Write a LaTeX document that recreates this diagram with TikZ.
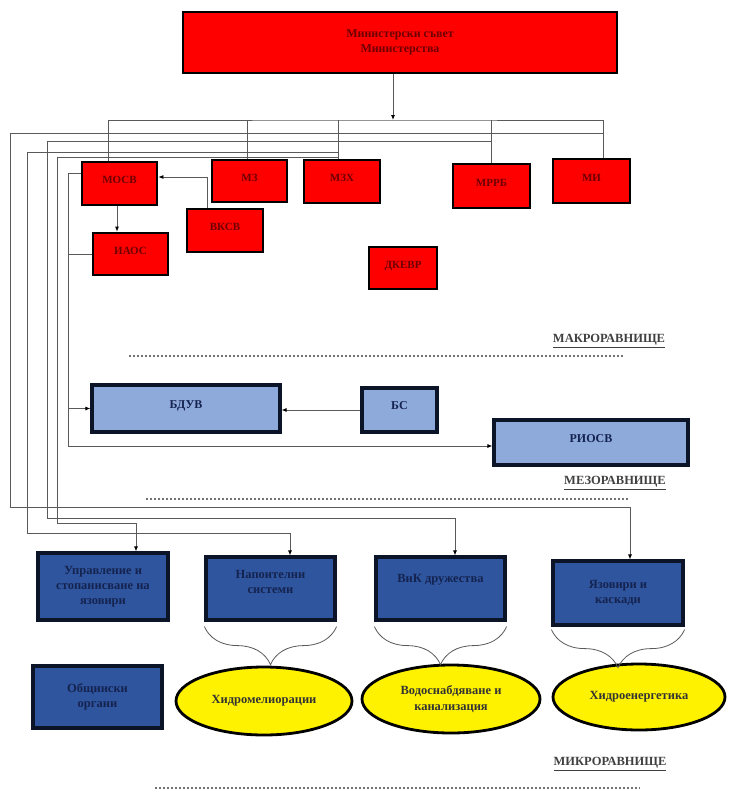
\documentclass[tikz,border=0pt]{standalone}
\usepackage{fontspec}
\setmainfont{Liberation Serif}
\usetikzlibrary{arrows.meta,shapes.geometric,decorations.pathreplacing,calc}
\definecolor{lblue}{RGB}{142,170,219}
\definecolor{dblue}{RGB}{47,85,158}
\definecolor{navyb}{RGB}{12,20,40}
\definecolor{navyt}{RGB}{20,35,80}
\definecolor{redt}{RGB}{110,0,0}
\definecolor{linegray}{RGB}{90,90,90}
\begin{document}
\begin{tikzpicture}[x=1pt,y=-1pt,
  redbox/.style={draw=black, line width=2.8pt, fill=red, text=redt, inner sep=0pt,
    font=\bfseries\fontsize{11}{13}\selectfont, text depth=7pt},
  lbox/.style={draw=navyb, line width=3.2pt, fill=lblue, text=navyt, inner sep=0pt,
    font=\bfseries\fontsize{12}{14}\selectfont, text depth=8pt},
  dbox/.style={draw=navyb, line width=3.2pt, fill=dblue, text=navyt, inner sep=0pt,
    align=center, font=\bfseries\fontsize{12.5}{15}\selectfont},
  ell/.style={ellipse, draw=black, line width=2.8pt, fill=yellow, inner sep=0pt,
    align=center, text=black!80, font=\bfseries\fontsize{12.5}{16}\selectfont},
  lvl/.style={font=\bfseries\fontsize{12.5}{14}\selectfont, text=black!75, inner sep=0pt},
  conn/.style={draw=linegray, line width=0.8pt},
  arr/.style={conn, -{Latex[length=5pt,width=4pt,color=black]}},
  brc/.style={draw=linegray, line width=0.8pt, decorate,
    decoration={brace, amplitude=38pt, aspect=0.5}},
  dotl/.style={draw=black!55, line width=1.1pt, dash pattern=on 2pt off 2pt}]

\useasboundingbox (0,0) rectangle (728,792);

% ---------- top ----------
\node[draw=black, line width=2.8pt, fill=red, text=redt, align=center,
  minimum width=434pt, minimum height=61pt, inner sep=0pt,
  font=\bfseries\fontsize{12}{15}\selectfont] (top) at (400,42.5)
  {Министерски съвет\\Министерства};

% ---------- ministries ----------
\node[redbox, minimum width=75pt, minimum height=43pt] (mosv) at (119.5,183.5) {МОСВ};
\node[redbox, minimum width=75pt, minimum height=42pt] (iaos) at (130.5,254) {ИАОС};
\node[redbox, minimum width=75pt, minimum height=42pt] (mz) at (249.5,181) {МЗ};
\node[redbox, minimum width=76pt, minimum height=43pt] (vksv) at (225,230.5) {ВКСВ};
\node[redbox, minimum width=76pt, minimum height=43pt] (mzh) at (342,181.5) {МЗХ};
\node[redbox, minimum width=77pt, minimum height=44pt] (mrrb) at (491.5,186) {МРРБ};
\node[redbox, minimum width=77pt, minimum height=44pt] (mi) at (591.5,181) {МИ};
\node[redbox, minimum width=68pt, minimum height=42pt] (dkevr) at (403,268) {ДКЕВР};

% ---------- meso ----------
\node[lbox, minimum width=188pt, minimum height=47pt] (bduv) at (186,408.5) {БДУВ};
\node[lbox, minimum width=75pt, minimum height=44pt] (bs) at (399.5,410) {БС};
\node[lbox, minimum width=194pt, minimum height=45pt] (riosv) at (591,442.5) {РИОСВ};

% ---------- micro ----------
\node[dbox, minimum width=130pt, minimum height=67pt] (upr) at (103,586.5)
  {Управление и\\стопанисване на\\язовири};
\node[dbox, minimum width=129pt, minimum height=63pt] (nap) at (270.5,588.5)
  {Напоителни\\системи\\[-2pt]\mbox{}};
\node[dbox, minimum width=129pt, minimum height=63pt, text depth=21pt] (vik) at (440.5,588.5)
  {ВиК дружества};
\node[dbox, minimum width=130pt, minimum height=64pt] (yaz) at (618,593)
  {Язовири и\\каскади};
\node[dbox, minimum width=129pt, minimum height=62pt] (obs) at (97.5,697)
  {Общински\\органи};

\node[ell, minimum width=176pt, minimum height=68pt] (hm) at (264,701) {Хидромелиорации};
\node[ell, minimum width=178pt, minimum height=68pt] (vs) at (451,699) {Водоснабдяване и\\канализация};
\node[ell, minimum width=172pt, minimum height=66pt] (he) at (639,697) {Хидроенергетика};

% ---------- level labels ----------
\node[lvl] (macro) at (609,341) {\underline{МАКРОРАВНИЩЕ}};
\node[lvl] (mezo) at (615,483) {\underline{МЕЗОРАВНИЩЕ}};
\node[lvl] (micro) at (610,764) {\underline{МИКРОРАВНИЩЕ}};
\draw[dotl] (129,356) -- (624,356);
\draw[dotl] (146,499) -- (629,499);
\draw[dotl] (155,788) -- (640,788);

% ---------- connectors from top ----------
\coordinate (bus) at (393,120);
\draw[arr] (top.south -| bus) -- (bus);
\draw[conn] ([xshift=-11.5pt]mosv.north) |- (bus) -| ([xshift=11.5pt]mi.north);
\draw[conn] ([xshift=-2.5pt]mz.north) -- ([xshift=-2.5pt]mz.north |- bus);
\draw[conn] ([xshift=-4pt]mzh.north) -- ([xshift=-4pt]mzh.north |- bus);
\draw[conn] (mrrb.north) -- (mrrb.north |- bus);

% ---------- long connectors to micro level ----------
\coordinate (a1) at (10,133);  \coordinate (a2) at (10,507);
\coordinate (b1) at (47,141);  \coordinate (b2) at (47,518);
\coordinate (c1) at (27,152);  \coordinate (c2) at (27,533);
\coordinate (d1) at (57,157);  \coordinate (d2) at (57,523);
\draw[arr] ([xshift=11.5pt]mi.north |- a1) -- (a1) -- (a2) -| ([xshift=12pt]yaz.north);
\draw[arr] (mrrb.north |- b1) -- (b1) -- (b2) -| ([xshift=14.5pt]vik.north);
\draw[arr] ([xshift=-4pt]mzh.north |- c1) -- (c1) -- (c2) -| ([xshift=19.5pt]nap.north);
\draw[arr] ([xshift=-4pt]mzh.north |- d1) -- (d1) -- (d2) -| ([xshift=33pt]upr.north);

% ---------- МОСВ branch ----------
\coordinate (e1) at (68,173);  \coordinate (e2) at (68,446);
\draw[arr] (mosv.west |- e1) -- (e1) -- (e2) -- (riosv.west |- e2);
\draw[conn] (iaos.west) -- (iaos.west -| e1);
\draw[arr] (e1 |- bduv.west) -- (bduv.west);
\draw[arr] ([xshift=-2.5pt]mosv.south) -- ([xshift=-2.5pt]mosv.south |- iaos.north);
\draw[arr] ([xshift=-18pt]vksv.north) |- ([yshift=6.5pt]mosv.east);
\draw[arr] (bs.west) -- (bs.west -| bduv.east);

% ---------- braces ----------
\draw[brc] ([yshift=-5pt]nap.south east) -- ([yshift=-5pt]nap.south west);
\draw[brc] ([yshift=-5pt]vik.south east) -- ([yshift=-5pt]vik.south west);
\draw[brc] ([yshift=-3pt]yaz.south east) -- ([yshift=-3pt]yaz.south west);
\end{tikzpicture}
\end{document}
